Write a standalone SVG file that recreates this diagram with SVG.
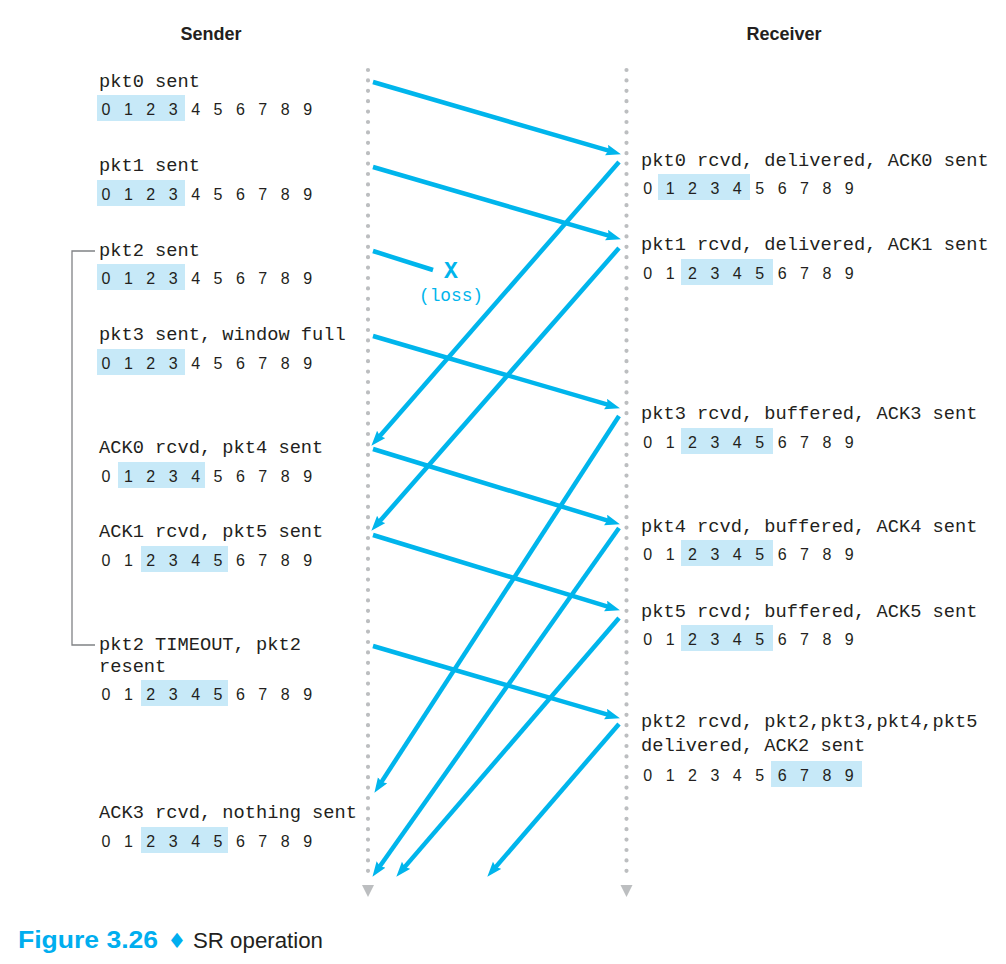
<svg xmlns="http://www.w3.org/2000/svg" width="1006" height="964" viewBox="0 0 1006 964">
<style>
.lbl{font-family:"Liberation Mono","DejaVu Sans Mono",monospace;font-size:18.7px;fill:#231f20}
.dig{font-family:"Liberation Sans",Arial,sans-serif;font-size:16px;fill:#231f20;text-anchor:middle}
.hl{fill:#c7e9f8}
.hdr{font-family:"Liberation Sans",Arial,sans-serif;font-size:18px;font-weight:bold;fill:#231f20;text-anchor:middle}
.tl{stroke:#bcbec0;stroke-width:4.2;stroke-linecap:round;stroke-dasharray:0 10.4;fill:none}
.tri{fill:#bcbec0}
.arr{stroke:#00b5ec;stroke-width:4.5;fill:none;marker-end:url(#ah)}
.loss{stroke:#00b5ec;stroke-width:4.5;fill:none}
.blue{fill:#00b5ec;font-family:"Liberation Mono","DejaVu Sans Mono",monospace}
</style>
<defs>
<marker id="ah" markerUnits="userSpaceOnUse" markerWidth="17" markerHeight="12" refX="4" refY="5.5" orient="auto">
<path d="M0,0 L15,5.5 L0,11 L2,5.5 z" fill="#00b5ec"/>
</marker>
</defs>
<rect width="1006" height="964" fill="#ffffff"/>

<g id="headers">
<text class="hdr" x="211" y="40">Sender</text>
<text class="hdr" x="784" y="40">Receiver</text>
</g>

<g id="timelines">
<line class="tl" x1="368" y1="70" x2="368" y2="879"/>
<polygon class="tri" points="362,885 374,885 368,897"/>
<line class="tl" x1="626.5" y1="70" x2="626.5" y2="879"/>
<polygon class="tri" points="620.5,885 632.5,885 626.5,897"/>
</g>

<g id="timeout-bracket">
<path d="M95,251 H72 V645 H95" fill="none" stroke="#808285" stroke-width="1.3"/>
</g>

<g id="s-pkt0">
<text class="lbl" x="99" y="87">pkt0 sent</text>
<rect class="hl" x="97" y="95" width="88" height="26"/>
<text class="dig" x="106 128.4 150.8 173.2 195.6 218 240.4 262.8 285.2 307.6" y="115">0123456789</text>
</g>
<g id="s-pkt1">
<text class="lbl" x="99" y="171">pkt1 sent</text>
<rect class="hl" x="97" y="180" width="88" height="26"/>
<text class="dig" x="106 128.4 150.8 173.2 195.6 218 240.4 262.8 285.2 307.6" y="200">0123456789</text>
</g>
<g id="s-pkt2">
<text class="lbl" x="99" y="256">pkt2 sent</text>
<rect class="hl" x="97" y="264" width="88" height="26"/>
<text class="dig" x="106 128.4 150.8 173.2 195.6 218 240.4 262.8 285.2 307.6" y="284">0123456789</text>
</g>
<g id="s-pkt3">
<text class="lbl" x="99" y="340">pkt3 sent, window full</text>
<rect class="hl" x="97" y="349" width="88" height="26"/>
<text class="dig" x="106 128.4 150.8 173.2 195.6 218 240.4 262.8 285.2 307.6" y="369">0123456789</text>
</g>
<g id="s-ack0">
<text class="lbl" x="99" y="453">ACK0 rcvd, pkt4 sent</text>
<rect class="hl" x="118" y="462" width="87" height="26"/>
<text class="dig" x="106 128.4 150.8 173.2 195.6 218 240.4 262.8 285.2 307.6" y="482">0123456789</text>
</g>
<g id="s-ack1">
<text class="lbl" x="99" y="537">ACK1 rcvd, pkt5 sent</text>
<rect class="hl" x="141" y="546" width="87" height="26"/>
<text class="dig" x="106 128.4 150.8 173.2 195.6 218 240.4 262.8 285.2 307.6" y="566">0123456789</text>
</g>
<g id="s-timeout">
<text class="lbl" x="99" y="650">pkt2 TIMEOUT, pkt2</text>
<text class="lbl" x="99" y="672">resent</text>
<rect class="hl" x="141" y="680" width="87" height="26"/>
<text class="dig" x="106 128.4 150.8 173.2 195.6 218 240.4 262.8 285.2 307.6" y="700">0123456789</text>
</g>
<g id="s-ack3">
<text class="lbl" x="99" y="818">ACK3 rcvd, nothing sent</text>
<rect class="hl" x="141" y="827" width="87" height="26"/>
<text class="dig" x="106 128.4 150.8 173.2 195.6 218 240.4 262.8 285.2 307.6" y="847">0123456789</text>
</g>

<g id="r-pkt0">
<text class="lbl" x="641" y="166">pkt0 rcvd, delivered, ACK0 sent</text>
<rect class="hl" x="658" y="174" width="92" height="26"/>
<text class="dig" x="647.7 670.1 692.5 714.9 737.3 759.7 782.1 804.5 826.9 849.3" y="194">0123456789</text>
</g>
<g id="r-pkt1">
<text class="lbl" x="641" y="250">pkt1 rcvd, delivered, ACK1 sent</text>
<rect class="hl" x="681" y="259" width="92" height="26"/>
<text class="dig" x="647.7 670.1 692.5 714.9 737.3 759.7 782.1 804.5 826.9 849.3" y="279">0123456789</text>
</g>
<g id="r-pkt3">
<text class="lbl" x="641" y="419">pkt3 rcvd, buffered, ACK3 sent</text>
<rect class="hl" x="681" y="428" width="92" height="26"/>
<text class="dig" x="647.7 670.1 692.5 714.9 737.3 759.7 782.1 804.5 826.9 849.3" y="448">0123456789</text>
</g>
<g id="r-pkt4">
<text class="lbl" x="641" y="532">pkt4 rcvd, buffered, ACK4 sent</text>
<rect class="hl" x="681" y="540" width="92" height="26"/>
<text class="dig" x="647.7 670.1 692.5 714.9 737.3 759.7 782.1 804.5 826.9 849.3" y="560">0123456789</text>
</g>
<g id="r-pkt5">
<text class="lbl" x="641" y="617">pkt5 rcvd; buffered, ACK5 sent</text>
<rect class="hl" x="681" y="625" width="92" height="26"/>
<text class="dig" x="647.7 670.1 692.5 714.9 737.3 759.7 782.1 804.5 826.9 849.3" y="645">0123456789</text>
</g>
<g id="r-pkt2">
<text class="lbl" x="641" y="727">pkt2 rcvd, pkt2,pkt3,pkt4,pkt5</text>
<text class="lbl" x="641" y="751">delivered, ACK2 sent</text>
<rect class="hl" x="771" y="761" width="91" height="26"/>
<text class="dig" x="647.7 670.1 692.5 714.9 737.3 759.7 782.1 804.5 826.9 849.3" y="781">0123456789</text>
</g>

<g id="connectors">
<line class="arr" x1="373" y1="82" x2="610.4" y2="151.2"/>
<line class="arr" x1="373" y1="167" x2="610.4" y2="236.2"/>
<line class="loss" x1="373" y1="251" x2="433" y2="270"/>
<line class="arr" x1="373" y1="336" x2="609.4" y2="405.2"/>
<line class="arr" x1="373" y1="449" x2="609.4" y2="521.1"/>
<line class="arr" x1="373" y1="535" x2="609.4" y2="607.1"/>
<line class="arr" x1="373" y1="646" x2="609.4" y2="715.2"/>
<line class="arr" x1="619" y1="162" x2="378.6" y2="437.5"/>
<line class="arr" x1="619" y1="248" x2="378.6" y2="522.5"/>
<line class="arr" x1="619" y1="416" x2="380.4" y2="783.6"/>
<line class="arr" x1="619" y1="528" x2="378.8" y2="867.8"/>
<line class="arr" x1="619" y1="618" x2="403.5" y2="868.4"/>
<line class="arr" x1="619" y1="724" x2="494.5" y2="868.4"/>
</g>

<g id="loss-label">
<text class="blue" x="451" y="278" font-size="23" font-weight="bold" text-anchor="middle">X</text>
<text class="blue" x="451" y="301" font-size="17.8" text-anchor="middle">(loss)</text>
</g>

<g id="caption">
<text x="18" y="948" font-family="'Liberation Sans',Arial,sans-serif" font-size="23" font-weight="bold" fill="#00aeef" textLength="140" lengthAdjust="spacingAndGlyphs">Figure 3.26</text>
<text x="177" y="948" font-family="'DejaVu Sans',sans-serif" font-size="21" fill="#00aeef" text-anchor="middle">♦</text>
<text x="193" y="948" font-family="'Liberation Sans',Arial,sans-serif" font-size="22.5" fill="#231f20" textLength="130" lengthAdjust="spacingAndGlyphs">SR operation</text>
</g>
</svg>
